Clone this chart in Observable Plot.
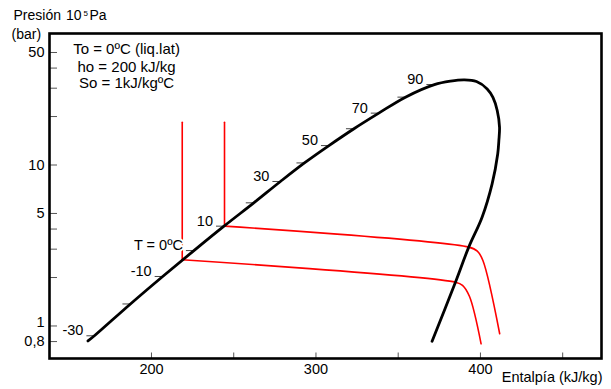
<!DOCTYPE html>
<html>
<head>
<meta charset="utf-8">
<script src="https://cdn.jsdelivr.net/npm/d3@7"></script>
<script src="https://cdn.jsdelivr.net/npm/@observablehq/plot@0.6"></script>
<style>
  html, body { margin: 0; padding: 0; background: #fff; }
  #chart svg { display: block; }
</style>
</head>
<body>
<div id="chart"></div>
<script>
// Saturated liquid line: temperature marks (ºC), enthalpy (kJ/kg), pressure (bar)
const liqTemps  = [-30, -20, -10, 0, 10, 20, 30, 40, 50, 60, 70, 80, 90];
const liqH      = [165.3, 187.2, 206.8, 225.8, 244.1, 262.2, 278.4, 293.0, 307.9, 323.1, 338.2, 354.4, 372.0];
const liqP      = [0.869, 1.37, 2.03, 2.94, 4.17, 5.82, 7.90, 10.3, 13.2, 16.8, 21.0, 26.4, 31.6];
const liqLabels = ["-30", "", "-10", "T = 0ºC", "10", "", "30", "", "50", "", "70", "", "90"];
// lower end of the liquid line
const liqStartH = 161.4;
const liqStartP = 0.807;

// Critical region and saturated vapour line
const vapH = [381.8, 390.3, 397.6, 404.1, 407.6, 410.2, 411.6, 411.2, 410.5, 407.1, 401.0, 392.9, 384.8, 370.6];
const vapP = [33.2, 33.8, 33.0, 29.7, 26.3, 21.8, 17.2, 14.2, 11.7, 7.64, 4.74, 3.09, 1.87, 0.804];

// Two process paths (red): vertical drop, evaporation, then superheated tail
const cycleAH = [218.7, 218.7, 384.8, 389.1, 393.3, 400.4];
const cycleAP = [18.4, 2.58, 1.87, 1.79, 1.53, 0.775];
const cycleBH = [244.4, 244.4, 392.9, 398.1, 401.5, 411.7];
const cycleBP = [18.4, 4.17, 3.09, 2.92, 2.55, 0.895];

// Axis ticks
const xTicks = [200, 250, 300, 350, 400, 450];
const xTickLabels = [200, 300, 400];
const yTicks = [0.8, 1, 2, 3, 4, 5, 10, 20, 30, 40, 50];
const yTickLabels = [0.8, 5, 10, 50];
const yTickLabelsRaised = [1];

// Reference state notes
const notes = ["To = 0ºC (liq.lat)", "ho = 200 kJ/kg", "So = 1kJ/kgºC"];

// ---- build tables ----
const liquid = liqTemps.map((t, i) => ({t, h: liqH[i], p: liqP[i], label: liqLabels[i]}));
const dome = [{h: liqStartH, p: liqStartP}, ...liquid, ...vapH.map((h, i) => ({h, p: vapP[i]}))];
const pts = (H, P) => H.map((h, i) => ({h, p: P[i]}));
const cycleA = pts(cycleAH, cycleAP);
const cycleB = pts(cycleBH, cycleBP);

// small line-shaped symbols for ticks drawn inside the frame
const dashLeft = {draw(ctx) { ctx.moveTo(-8, 0); ctx.lineTo(0, 0); }};
const tickUp = {draw(ctx) { ctx.moveTo(0, 0); ctx.lineTo(0, -6); }};
const tickRight = {draw(ctx) { ctx.moveTo(0, 0); ctx.lineTo(7.5, 0); }};

const fmtP = d => d === 0.8 ? "0,8" : String(d);
const font = "'Liberation Sans', Arial, Helvetica, sans-serif";

// free-standing text placed relative to the top-left corner of the frame
const label = (s, dx, dy, opts = {}) => Plot.text([s], {
  text: d => d, frameAnchor: "top-left", lineAnchor: "middle",
  textAnchor: "start", dx, dy, fontSize: 14, fill: "#000", ...opts
});

const chart = Plot.plot({
  width: 611,
  height: 389,
  marginLeft: 49,
  marginRight: 10,
  marginTop: 33,
  marginBottom: 31,
  style: {fontFamily: font, fontSize: "14.5px", color: "#000", background: "#fff"},
  x: {domain: [138.0, 473.6]},
  y: {type: "log", domain: [0.628, 65.6], axis: null},
  marks: [
    // tick marks
    Plot.dot(xTicks, {x: d => d, frameAnchor: "bottom", symbol: tickUp, stroke: "#555", strokeWidth: 1, fill: "none"}),
    Plot.dot(yTicks, {y: d => d, frameAnchor: "left", symbol: tickRight, stroke: "#555", strokeWidth: 1, fill: "none"}),
    Plot.axisX(xTickLabels, {tickSize: 0, tickPadding: 5, label: null, fontSize: 14.5}),
    Plot.text(yTickLabels, {y: d => d, text: fmtP, frameAnchor: "left", lineAnchor: "middle", textAnchor: "end", dx: -5, fontSize: 14.5, fill: "#000"}),
    Plot.text(yTickLabelsRaised, {y: d => d, text: fmtP, frameAnchor: "left", lineAnchor: "middle", textAnchor: "end", dx: -5, dy: -4, fontSize: 14.5, fill: "#000"}),

    // process paths
    Plot.line(cycleA.slice(0, 2), {x: "h", y: "p", stroke: "#ff0000", strokeWidth: 1.6}),
    Plot.line(cycleA.slice(1), {x: "h", y: "p", stroke: "#ff0000", strokeWidth: 1.6, curve: "catmull-rom"}),
    Plot.line(cycleB.slice(0, 2), {x: "h", y: "p", stroke: "#ff0000", strokeWidth: 1.6}),
    Plot.line(cycleB.slice(1), {x: "h", y: "p", stroke: "#ff0000", strokeWidth: 1.6, curve: "catmull-rom"}),

    // temperature marks on the liquid line
    Plot.dot(liquid, {x: "h", y: "p", symbol: dashLeft, stroke: "#444", strokeWidth: 1, fill: "none"}),
    // saturation dome
    Plot.line(dome, {x: "h", y: "p", curve: "catmull-rom", stroke: "#000", strokeWidth: 2.8}),
    Plot.text(liquid.filter(d => d.label), {
      x: "h", y: "p", text: "label", textAnchor: "end", lineAnchor: "middle", dx: -11, dy: -5,
      fill: "#000", stroke: "#fff", strokeWidth: 4, paintOrder: "stroke", fontSize: 14.5
    }),

    Plot.frame({stroke: "#000", strokeWidth: 2.6}),

    // reference state notes
    label(notes[0], 77, 15.7, {textAnchor: "middle", fontSize: 15}),
    label(notes[1], 77, 33.4, {textAnchor: "middle", fontSize: 15}),
    label(notes[2], 77, 49.3, {textAnchor: "middle", fontSize: 15}),

    // axis titles
    label("Presión", -36, -18),
    label("10", 16.5, -18),
    label("5", 34, -20.5, {fontSize: 8}),
    label("Pa", 40, -18),
    label("(bar)", -38, 1),
    Plot.text(["Entalpía (kJ/kg)"], {text: d => d, frameAnchor: "bottom-right", lineAnchor: "middle", dx: 1, dy: 18.7, textAnchor: "end", fontSize: 14.5, fill: "#000"})
  ]
});

document.getElementById("chart").appendChild(chart);
</script>
</body>
</html>
